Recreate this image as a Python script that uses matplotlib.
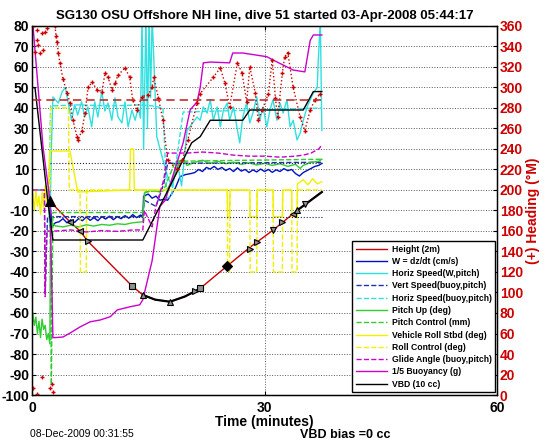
import matplotlib
matplotlib.use("Agg")
import matplotlib.pyplot as plt
import numpy as np

plt.rcParams['font.family'] = ['Liberation Sans', 'DejaVu Sans']
plt.rcParams['axes.unicode_minus'] = False

# ---- data (time in minutes) ----
# Height (2m)
ht_t = [2.0, 2.3, 4.9, 6.2, 7.2, 12.9, 14.3, 15.9, 17.8, 19.7, 21.0, 21.7, 25.2, 28.1, 31.1, 34.2, 37.4]
ht = [-1, -5.4, -15.6, -20, -25, -46.8, -51.2, -53.5, -54.5, -52, -49.5, -48, -37, -28, -19.6, -10, -1]

# markers along the height trace
mk_t = [2.3, 4.9, 6.2, 7.2, 12.9, 14.3, 17.8, 21.0, 21.7, 25.2, 28.1, 29.0, 31.1, 32.2, 33.7, 34.2, 35.2]
mk_h = [-5.4, -15.6, -20, -25, -46.8, -51, -54.5, -49.5, -48, -37, -29, -25.6, -19.7, -15.4, -11.5, -10, -7]
mk_sym = ['^', '<', '<', '>', 's', '^', '^', '>', 's', 'D', '>', '>', 'v', '>', '<', '^', 'v']

# W = dz/dt (cm/s)
w_t = [0.1, 2.0, 2.3, 2.6, 3.0, 3.5, 4.0, 4.5, 5.0, 5.5, 6.0, 6.5, 7.0, 7.5, 8.0, 8.5, 9.0, 9.5,
       10.0, 10.5, 11.0, 11.5, 12.0, 12.5, 13.0, 13.5, 14.0, 14.3, 14.4, 15.0, 15.5, 16.0, 16.5,
       17.0, 17.5, 18.5, 19.1, 19.8, 20.5, 21.0, 21.5, 22.0, 22.5, 23.0, 23.5, 24.0, 24.5, 25.0,
       25.5, 26.0, 26.5, 27.0, 27.5, 28.0, 28.5, 29.0, 29.5, 30.0, 30.5, 31.0, 31.5, 32.0, 32.5,
       33.0, 33.5, 34.0, 34.5, 35.0, 35.5, 36.0, 36.5, 37.0, 37.4]
w = [0, 0, -5, -18, -16, -15.5, -14, -16, -14.5, -15.8, -14, -15, -13.2, -14.8, -13.5, -15, -13,
     -14.2, -12.8, -14.5, -13, -14, -12.5, -13.8, -12, -13.5, -12.2, -12.8, -3, -2, -4, -3, -5,
     -4.5, -5, 1, 6.5, 7.5, 8, 8.5, 10, 9, 11, 10.2, 11.5, 10, 11, 9.5, 10.5, 9, 10.8, 9.2, 10,
     8.5, 9.8, 8.8, 10.2, 9, 10, 8.6, 9.8, 9, 10.4, 9.4, 10, 8, 6.8, 8.5, 9.5, 10.5, 11.5, 12, 13]

# Horiz Speed (W, pitch)
hs_t = [0.1, 2.0, 2.3, 2.5, 2.7, 3.4, 3.9, 4.3, 4.6, 5.1, 5.5, 5.9, 6.4, 6.8, 7.2, 7.7, 8.1, 8.5,
        9.0, 9.4, 9.8, 10.3, 10.7, 11.1, 11.6, 12.0, 12.4, 12.9, 13.3, 13.7, 14.0, 14.2, 14.4,
        14.7, 14.9, 15.1, 15.3, 15.5, 16.1, 16.9, 17.5, 18.1, 18.7, 19.3, 20.0, 21.3, 21.7, 22.1,
        22.6, 23.0, 23.4, 23.9, 24.3, 24.7, 25.2, 25.5, 26.0, 26.5, 26.8, 27.2, 27.7, 28.1, 28.5,
        29.0, 29.4, 29.8, 30.3, 30.7, 31.1, 31.6, 32.0, 32.4, 32.9, 33.3, 33.7, 34.2, 34.6, 35.0,
        35.5, 35.9, 36.3, 36.8, 36.9, 37.2, 37.4]
hs = [0, 0, -18, 20, 45.4, 42.4, 48, 50, 44, 34, 41.5, 36.6, 43, 35.6, 40.5, 30.8, 43, 35.6, 48,
      38.5, 42.4, 34, 45, 35.6, 32.7, 43, 30.8, 39, 34, 40, 35, 85, 20, 85, 30, 85, 45, 85, 26,
      14.6, 6.5, 1.5, 14.6, 2, 29, 35.6, 34, 40.5, 37.5, 44, 34, 40.5, 30.8, 39, 42.4, 34, 40.5,
      29.3, 23, 35.6, 42.4, 32.7, 37.5, 45.4, 34, 40.5, 30.8, 39, 44, 34, 42.4, 37.5, 44, 30.8,
      34, 24.4, 27.8, 34, 40.5, 44, 47.3, 50, 60, 83, 29]

# Vert Speed (buoy, pitch)
vs_t = [0.1, 1.6, 1.7, 2.0, 14.3, 14.5, 16.0, 17.0, 17.5, 37.4]
vs = [0, 0, -50, -13, -13, -5, -8, 3, 13, 13.5]

# Horiz Speed (buoy, pitch)
hb_t = [0.1, 2.2, 2.4, 6.0, 10.0, 14.0, 15.5, 16.9, 17.4, 18.0, 19.5, 37.4]
hb = [0, 0, 41, 41.5, 41, 41.5, 41, 40, -4, -3, 38, 40]

# Pitch Up (deg)
pu_t = [0.1, 0.3, 0.5, 0.7, 0.9, 1.1, 1.3, 1.5, 1.7, 1.9, 2.1, 2.3, 2.4, 2.6, 3.0, 4.0, 5.0, 6.0,
        7.0, 8.0, 9.0, 10.0, 11.0, 12.0, 13.0, 14.0, 14.3, 14.5, 15.5, 16.5, 17.5, 18.5, 19.0,
        19.5, 20.0, 21.0, 22.0, 23.0, 24.0, 25.0, 26.0, 27.0, 28.0, 29.0, 30.0, 31.0, 32.0, 33.0,
        34.0, 34.6, 35.0, 36.0, 37.0, 37.4]
pu = [-60, -66, -62, -70, -64, -72, -63, -68, -66, -73, -70, -75, -20, -16, -17.5, -18, -17.2,
      -18, -17, -17.6, -16.8, -17.2, -16.5, -16.8, -16, -15.6, -15.5, -1.5, 0, -1, 0.5, 8, 14,
      15, 12, 13.5, 14.5, 13, 14, 12.8, 13.6, 12.5, 13.2, 12.2, 13, 12, 12.8, 11.5, 12.5, 10.5,
      12, 13.5, 14, 15]

# Pitch Control (mm)
pc_t = [0.1, 2.3, 2.5, 2.7, 14.3, 14.6, 17.0, 18.5, 37.4]
pc = [0, 0, -95, -11, -11, -1, 0, 14, 15]

# Vehicle Roll Stbd (deg)
vr_t = [0.1, 0.3, 0.5, 0.7, 0.9, 1.1, 1.3, 1.5, 1.7, 1.9, 2.1, 2.3, 4.9, 5.9, 12.6, 12.7, 13.1,
        13.2, 25.2, 25.25, 25.5, 25.55, 28.1, 28.15, 29.0, 29.05, 31.1, 31.15, 32.3, 32.35, 33.5,
        33.55, 34.2, 34.25, 35.0, 35.6, 36.2, 36.8, 37.4]
vr = [-2, -10, 0, -8, -3, -12, -1, -9, 2, -6, 0, 19, 19, -1, 0, 20, 20, 0, 0, -13, -13, 0, 0,
      -13, -13, 0, 0, -13, -13, 0, 0, -13, -13, 3, 5, 2.5, 5.5, 3, 4]

# Roll Control (deg)
rc_t = [0.1, 2.3, 2.4, 4.7, 4.8, 6.2, 6.25, 7.0, 7.05, 25.2, 25.25, 25.5, 25.55, 28.1, 28.15,
        29.0, 29.05, 31.1, 31.15, 32.3, 32.35, 33.5, 33.55, 34.2, 34.25, 37.4]
rc = [0, 0, 40, 40, 0, 0, -40, -40, 0, 0, -40, -40, 0, 0, -40, -40, 0, 0, -40, -40, 0, 0, -40,
      -40, 0, 0]

# Glide Angle (buoy, pitch)
ga_t = [0.1, 1.6, 1.7, 1.9, 3.0, 5.0, 7.0, 9.0, 11.0, 13.0, 14.3, 14.5, 15.5, 16.0, 17.0, 17.5,
        20.0, 22.0, 24.0, 26.0, 28.0, 30.0, 32.0, 34.0, 35.0, 36.0, 37.0, 37.4]
ga = [0, 0, -52, -20, -20, -19.5, -20.5, -19.8, -20.2, -19.5, -19.5, -10, -18, -8, 5, 18, 18,
      18.5, 18, 17, 16.5, 16.5, 16, 16.5, 17, 18, 20, 22]

# 1/5 Buoyancy (g)
by_t = [0.13, 1.42, 2.32, 2.7, 3.0, 4.0, 4.9, 6.2, 7.5, 8.8, 10.1, 11.0, 12.6, 13.9, 14.3, 15.5,
        16.5, 17.2, 19.5, 20.4, 21.3, 21.7, 22.1, 23.0, 25.5, 25.9, 27.2, 30.3, 31.1, 33.7, 35.2,
        35.9, 36.3, 37.4]
by = [80, 21, -5, -72, -72, -71.7, -69.8, -66.8, -64.3, -63.4, -61.8, -58.5, -57, -56, -53.5,
      -34.5, -8, -5, 23, 39, 43, 50, 62, 62.4, 62, 66.8, 66.8, 65, 63.4, 58.5, 57.6, 73, 75.6,
      75.6]

# VBD (10 cc)
vbd_t = [0.1, 0.39, 2.06, 2.7, 14.3, 16.9, 20.6, 21.7, 23.0, 27.2, 28.1, 35.0, 36.3, 37.4]
vbd = [50, 49.8, -6, -24.4, -24.4, -5, 23, 26, 34, 34, 39, 39, 48, 48]

# target vertical speed lines (+/-)
wt_t = [2.3, 37.4]
wt_up = [13, 13]
wt_dn = [-13, -13]

# Heading (deg, right axis)
hd_t = [2.97, 3.1, 3.23, 3.4, 3.6, 4.0, 4.52, 4.9, 5.29, 5.8, 5.94, 6.45, 6.84, 7.23, 7.74, 8.39,
        9.03, 9.42, 9.81, 10.3, 10.7, 11.1, 12.0, 12.6, 13.0, 13.5, 14.2, 15.0, 15.5, 15.7, 16.3,
        16.9, 17.5, 18.7, 19.4, 20.1, 21.3, 21.7, 23.4, 24.3, 24.9, 25.5, 26.5, 27.1, 27.7, 28.1,
        28.8, 29.2, 29.7, 30.5, 31.0, 31.4, 31.7, 32.3, 32.6, 33.0, 33.7, 34.6, 35.2, 35.9, 36.5,
        37.2]
hd = [360, 350, 344, 334, 324, 308, 295, 285, 268, 252, 249, 258, 275, 300, 305, 298, 296, 314,
      310, 298, 304, 312, 319, 310, 288, 278, 291, 293, 300, 310, 290, 268, 229, 220, 229, 249,
      285, 294, 310, 319, 304, 281, 324, 314, 286, 320, 295, 268, 278, 294, 327, 290, 271, 314,
      330, 334, 300, 271, 258, 278, 288, 294]
# scattered heading samples near the 0/360 wrap at the surface
hw_t = [0.13, 0.39, 0.6, 0.6, 0.77, 1.03, 1.25, 1.42, 1.68, 1.94, 0.1, 0.6, 1.3, 2.3, 2.6, 2.7]
hw = [360, 335, 356, 346, 341, 334, 353, 337, 354, 358, 7, 1, 18, 7, 11, 3]
# desired heading
hdes_t = [0.1, 37.3]
hdes = [288, 288]

RED = '#cc0000'

fig = plt.figure(figsize=(5.46, 4.42), dpi=100)
ax = fig.add_axes([0.0586, 0.1063, 0.8517, 0.835])

l_ht, = ax.plot(ht_t, ht, color=RED, lw=1.0, label='Height (2m)')
l_w, = ax.plot(w_t, w, color='#0010c0', lw=1.0, label='W = dz/dt (cm/s)')
l_hs, = ax.plot(hs_t, hs, color='#30e0e0', lw=1.0, label='Horiz Speed(W,pitch)')
l_vs, = ax.plot(vs_t, vs, color='#2030b0', lw=1.0, ls='--', label='Vert Speed(buoy,pitch)')
l_hb, = ax.plot(hb_t, hb, color='#30e0e0', lw=1.0, ls='--', label='Horiz Speed(buoy,pitch)')
l_pu, = ax.plot(pu_t, pu, color='#30cc30', lw=1.0, label='Pitch Up (deg)')
l_pc, = ax.plot(pc_t, pc, color='#30cc30', lw=1.0, ls='--', label='Pitch Control (mm)')
l_vr, = ax.plot(vr_t, vr, color='#f0f000', lw=1.0, label='Vehicle Roll Stbd (deg)')
l_rc, = ax.plot(rc_t, rc, color='#f0f000', lw=1.0, ls='--', label='Roll Control (deg)')
l_ga, = ax.plot(ga_t, ga, color='#cc00cc', lw=1.0, ls='--', label='Glide Angle (buoy,pitch)')
l_by, = ax.plot(by_t, by, color='#cc00cc', lw=1.0, label='1/5 Buoyancy (g)')
l_vbd, = ax.plot(vbd_t, vbd, color='black', lw=1.0, label='VBD (10 cc)')

ax.plot(wt_t, wt_up, color='#202060', lw=0.8, ls=':')
ax.plot(wt_t, wt_dn, color='#202060', lw=0.8, ls=':')

# thick black parts of the height trace (bottom and final pump)
ht_t_a = np.array(ht_t)
ht_a = np.array(ht)
for lo, hi in [(14.3, 21.7), (34.2, 37.4)]:
    m = (ht_t_a >= lo) & (ht_t_a <= hi)
    ax.plot(ht_t_a[m], ht_a[m], color='black', lw=1.6)

for tt, hh, s in zip(mk_t, mk_h, mk_sym):
    face = 'black' if s == 'D' or tt == mk_t[0] else '#909090'
    size = 7 if tt == mk_t[0] else 5
    ax.plot(tt, hh, marker=s, ms=size, mfc=face, mec='black', mew=0.8, ls='none')

ax.set_xlim(0, 60)
ax.set_ylim(-100, 80)
ax.set_xticks([0, 30, 60])
ax.set_yticks(np.arange(-100, 81, 10))
ax.grid(True, ls=':', color='0.35', lw=0.7)
ax.tick_params(direction='in', length=3, labelsize=10, top=True, width=0.8, pad=2)
ax.tick_params(axis='x', pad=4)
for lab in ax.get_xticklabels() + ax.get_yticklabels():
    lab.set_fontweight('bold')
for sp in ax.spines.values():
    sp.set_linewidth(1.0)
ax.set_xlabel('Time (minutes)', fontsize=10, fontweight='bold', labelpad=0)
ax.set_title('SG130 OSU Offshore NH line, dive 51 started 03-Apr-2008 05:44:17',
             fontsize=9.5, fontweight='bold', pad=5)

ax2 = ax.twinx()
ax2.plot(hd_t, hd, color=RED, ls=':', lw=1.0, marker='+', ms=3.5, mew=1.0)
ax2.plot(hw_t, hw, color=RED, ls='none', marker='+', ms=3.5, mew=1.0)
ax2.plot(hdes_t, hdes, color='#c03030', ls='--', lw=1.2, dashes=(5, 3))
ax2.set_ylim(0, 360)
ax2.set_yticks(np.arange(0, 361, 20))
ax2.tick_params(direction='in', length=3, labelsize=10, labelcolor=RED, width=0.8, pad=2)
for lab in ax2.get_yticklabels():
    lab.set_fontweight('bold')
ax2.set_ylabel('(+) Heading (\u00b0M)', color=RED, fontsize=10, fontweight='bold', labelpad=2)

handles = [l_ht, l_w, l_hs, l_vs, l_hb, l_pu, l_pc, l_vr, l_rc, l_ga, l_by, l_vbd]
leg = ax2.legend(handles=handles, loc='lower right', bbox_to_anchor=(0.996, 0.008),
                 fontsize=6.2, handlelength=3.6, labelspacing=0.38, borderaxespad=0,
                 fancybox=False, framealpha=1, edgecolor='black', borderpad=0.4,
                 handletextpad=0.6)
leg.get_frame().set_linewidth(1.0)
for txt in leg.get_texts():
    txt.set_fontweight('bold')

fig.text(0.055, 0.018, '08-Dec-2009 00:31:55', fontsize=7.5, ha='left', va='center')
fig.text(0.55, 0.015, 'VBD bias =0 cc', fontsize=9, fontweight='bold', ha='left', va='center')

fig.savefig('out.png', dpi=100)
